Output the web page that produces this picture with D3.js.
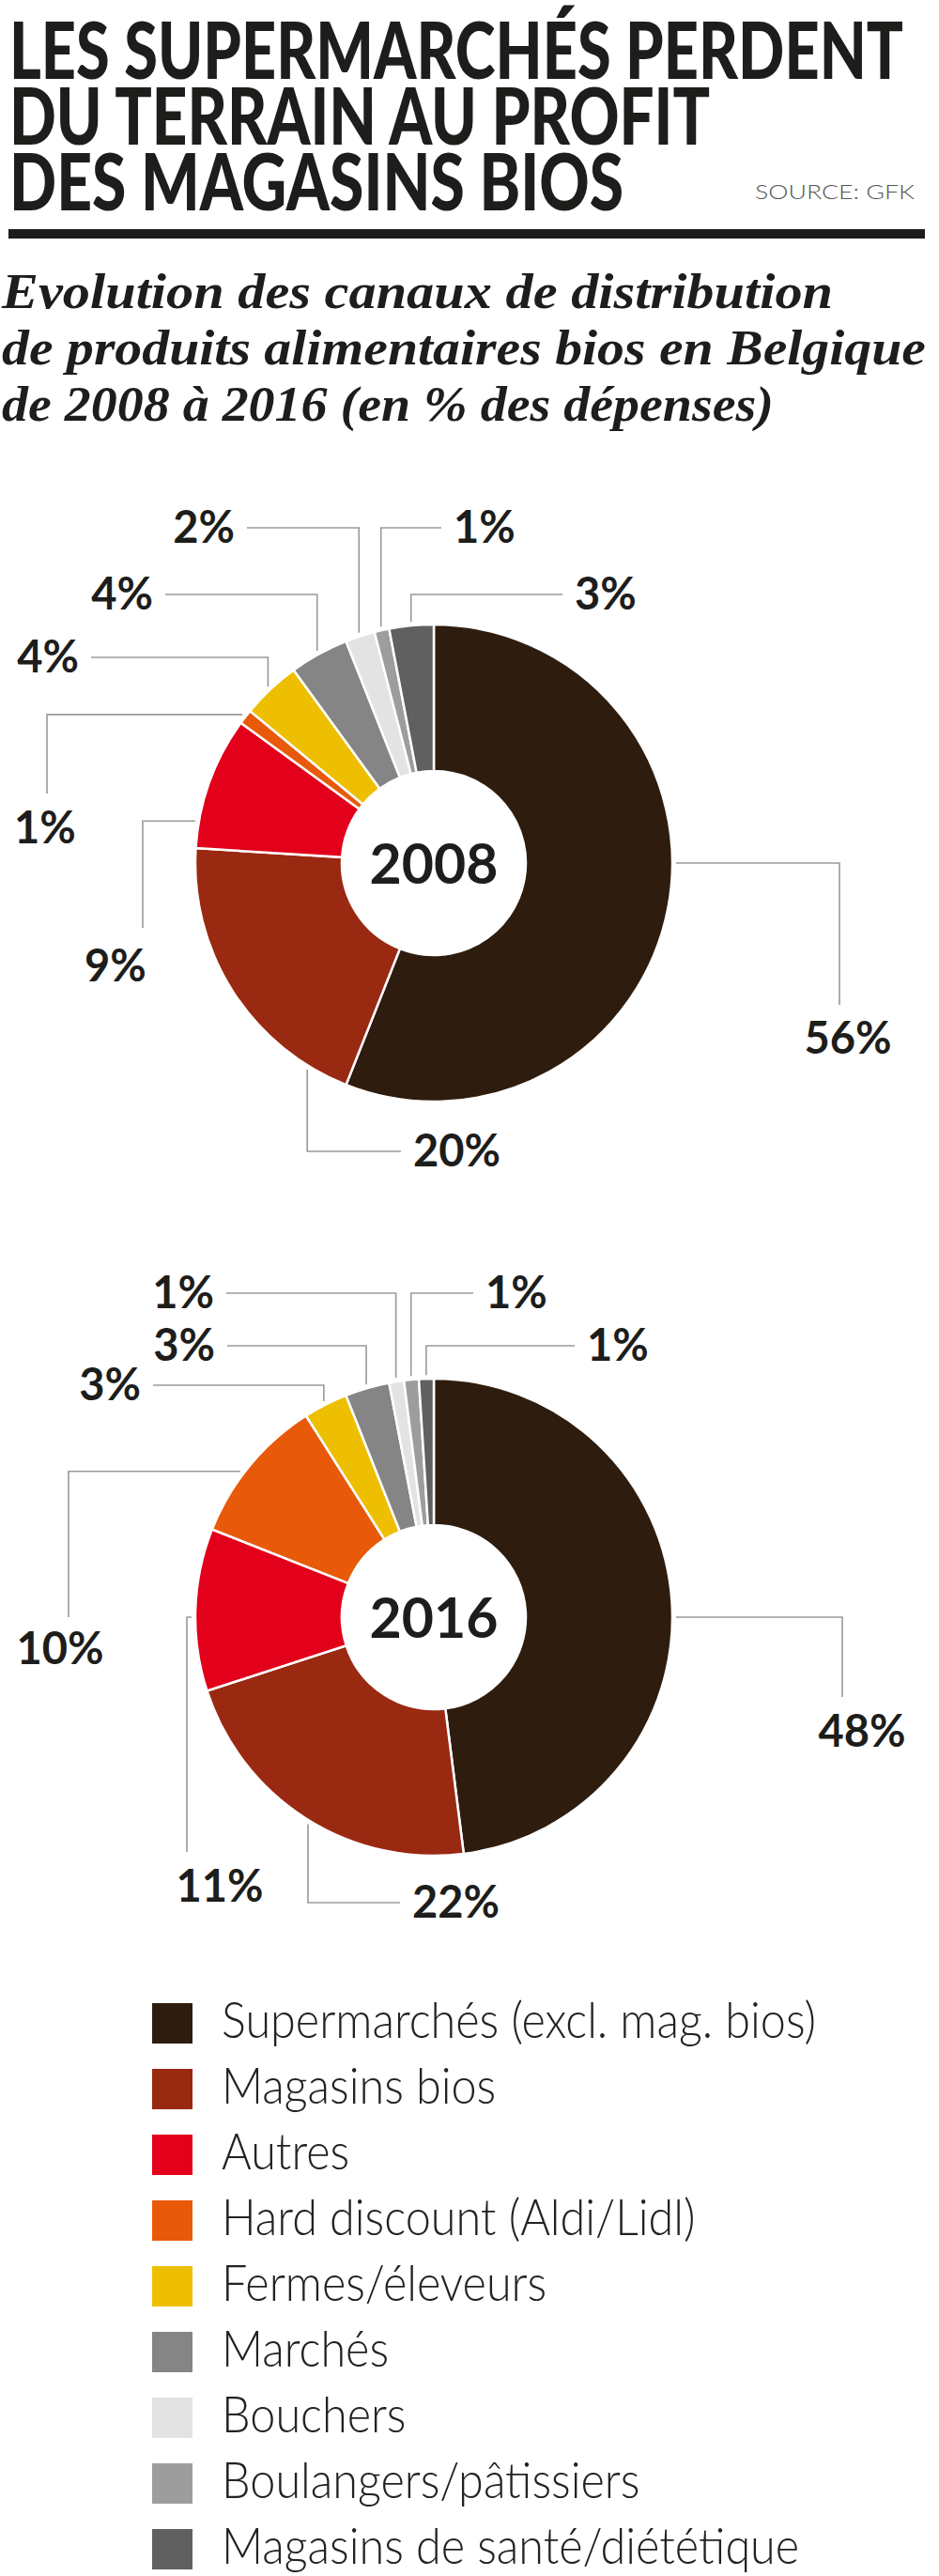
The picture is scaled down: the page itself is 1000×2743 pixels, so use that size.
<!DOCTYPE html>
<html lang="fr">
<head>
<meta charset="utf-8">
<title>Les supermarchés perdent du terrain</title>
<script src="https://cdn.jsdelivr.net/npm/d3@7"></script>
<style>
  body { margin: 0; background: #fff; }
  svg text { font-family: Lato, "Open Sans", sans-serif; fill: #1d1d1b; }
  .title { font-weight: 900; font-size: 84px; }
  .subtitle { font-family: "Liberation Serif", "DejaVu Serif", serif; font-style: italic; font-weight: bold; font-size: 52px; }
  .source { font-weight: 300; font-size: 21px; fill: #555; }
  .pct { font-weight: 700; font-size: 47px; }
  .year { font-weight: 700; font-size: 59px; }
  .legend text { font-weight: 300; font-size: 54px; fill: #222; }
  .leader { fill: none; stroke: #9a9a9a; stroke-width: 1.6px; }
</style>
</head>
<body>
<svg id="chart" width="1000" height="2743"></svg>
<script>
// ---- data ----
const categories = ["Supermarchés (excl. mag. bios)", "Magasins bios", "Autres", "Hard discount (Aldi/Lidl)",
  "Fermes/éleveurs", "Marchés", "Bouchers", "Boulangers/pâtissiers", "Magasins de santé/diététique"];
const values2008 = [56, 20, 9, 1, 4, 4, 2, 1, 3];
const values2016 = [48, 22, 11, 10, 3, 3, 1, 1, 1];
const years = ["2008", "2016"];
const colors = ["#2e1d0e", "#9a2912", "#e2001a", "#e8590a", "#edbf00", "#858585", "#e3e3e3", "#9d9d9d", "#606060"];

const titleLines = ["LES SUPERMARCHÉS PERDENT", "DU TERRAIN AU PROFIT", "DES MAGASINS BIOS"];
const subtitleLines = ["Evolution des canaux de distribution", "de produits alimentaires bios en Belgique",
  "de 2008 à 2016 (en % des dépenses)"];
const sourceText = "SOURCE: GFK";

// leader layout relative to the donut centre
// hv = horizontal then vertical (label below the end), vh = vertical then horizontal (label beside the end)
const leaders2008 = [
  {route: "hv", angle: 90, ex: 432, ey: 151, tx: 441, ty: 203},
  {route: "vh", angle: 211.5, ex: -35, ey: 307},
  {route: "hv", angle: 280, ex: -310, ey: 69, tx: -339, ty: 126},
  {route: "hv", ex: -412, ey: -74, tx: -414, ty: -21},
  {route: "vh", ex: -365, ey: -219},
  {route: "vh", ex: -286, ey: -286},
  {route: "vh", ex: -199, ey: -357},
  {route: "vh", ex: 8, ey: -357},
  {route: "vh", ex: 137, ey: -286}
];
const leaders2016 = [
  {route: "hv", angle: 90, ex: 435, ey: 85, tx: 456, ty: 138},
  {route: "vh", angle: 211.3, ex: -36, ey: 304},
  {route: "hv", angle: 270, ex: -263, ey: 250, tx: -228, ty: 303},
  {route: "hv", angle: 307, ex: -389, ey: 0, tx: -398, ty: 50},
  {route: "vh", ex: -299, ey: -247},
  {route: "vh", ex: -220, ey: -289},
  {route: "vh", ex: -221, ey: -345},
  {route: "vh", ex: 42, ey: -345},
  {route: "vh", ex: 150, ey: -289}
];

// ---- layout ----
const width = 1000, height = 2743;
const outerR = 254, innerR = 98;
const centres = [{x: 462, y: 919}, {x: 462, y: 1722}];

const svg = d3.select("#chart");
svg.append("rect").attr("width", width).attr("height", height).attr("fill", "#fff");

// header
const titleWidths = [952, 746, 654];
svg.selectAll(".title")
  .data(titleLines)
  .join("text")
  .attr("class", "title")
  .attr("x", 10)
  .attr("y", (d, i) => 84 + i * 70)
  .attr("textLength", (d, i) => titleWidths[i])
  .attr("lengthAdjust", "spacingAndGlyphs")
  .text(d => d);

svg.append("text")
  .attr("class", "source")
  .attr("x", 974).attr("y", 212)
  .attr("text-anchor", "end")
  .attr("textLength", 170)
  .attr("lengthAdjust", "spacingAndGlyphs")
  .text(sourceText);

svg.append("rect")
  .attr("x", 9).attr("y", 244)
  .attr("width", 976).attr("height", 10)
  .attr("fill", "#1d1d1b");

const subWidths = [885, 984, 822];
svg.selectAll(".subtitle")
  .data(subtitleLines)
  .join("text")
  .attr("class", "subtitle")
  .attr("x", 2)
  .attr("y", (d, i) => 328 + i * 60)
  .attr("textLength", (d, i) => subWidths[i])
  .attr("lengthAdjust", "spacingAndGlyphs")
  .text(d => d);

// donuts
const pie = d3.pie().sort(null).value(d => d.value);
const arc = d3.arc().innerRadius(innerR).outerRadius(outerR);
const rad = Math.PI / 180;

function drawDonut(values, leaders, year, c) {
  const rows = categories.map((name, i) => ({name, value: values[i], color: colors[i]}));
  const arcs = pie(rows);
  const g = svg.append("g").attr("transform", `translate(${c.x},${c.y})`);

  g.selectAll("path.slice")
    .data(arcs)
    .join("path")
    .attr("class", "slice")
    .attr("d", arc)
    .attr("fill", d => d.data.color)
    .attr("stroke", "#fff")
    .attr("stroke-width", 2.5);

  arcs.forEach((a, i) => {
    const L = leaders[i];
    const ang = L.angle !== undefined ? L.angle * rad : (a.startAngle + a.endAngle) / 2;
    const r = outerR + 4;
    const px = r * Math.sin(ang), py = -r * Math.cos(ang);
    let pts, tx, ty, anchor;
    if (L.route === "hv") {
      pts = [[px, py], [L.ex, py], [L.ex, L.ey]];
      tx = L.tx; ty = L.ty; anchor = "middle";
    } else {
      pts = [[px, py], [px, L.ey], [L.ex, L.ey]];
      const right = L.ex > px;
      tx = L.ex + (right ? 13 : -13);
      ty = L.ey + 16;
      anchor = right ? "start" : "end";
    }
    g.append("path").attr("class", "leader").attr("d", d3.line()(pts));
    g.append("text")
      .attr("class", "pct")
      .attr("x", tx).attr("y", ty)
      .attr("text-anchor", anchor)
      .text(a.data.value + "%");
  });

  g.append("text")
    .attr("class", "year")
    .attr("y", 22)
    .attr("text-anchor", "middle")
    .text(year);
}

drawDonut(values2008, leaders2008, years[0], centres[0]);
drawDonut(values2016, leaders2016, years[1], centres[1]);

// legend
const legend = svg.append("g").attr("class", "legend").attr("transform", "translate(162,2133)");
const items = legend.selectAll("g")
  .data(categories.map((name, i) => ({name, color: colors[i]})))
  .join("g")
  .attr("transform", (d, i) => `translate(0,${i * 70})`);
items.append("rect").attr("width", 43).attr("height", 43).attr("fill", d => d.color);
const labels = items.append("text").attr("x", 74).attr("y", 37).text(d => d.name);
// squeeze the legend font so the first label spans as in the original
const k = 633 / labels.node().getComputedTextLength();
labels.each(function () {
  const w = this.getComputedTextLength();
  d3.select(this).attr("textLength", w * k).attr("lengthAdjust", "spacingAndGlyphs");
});
</script>
</body>
</html>
